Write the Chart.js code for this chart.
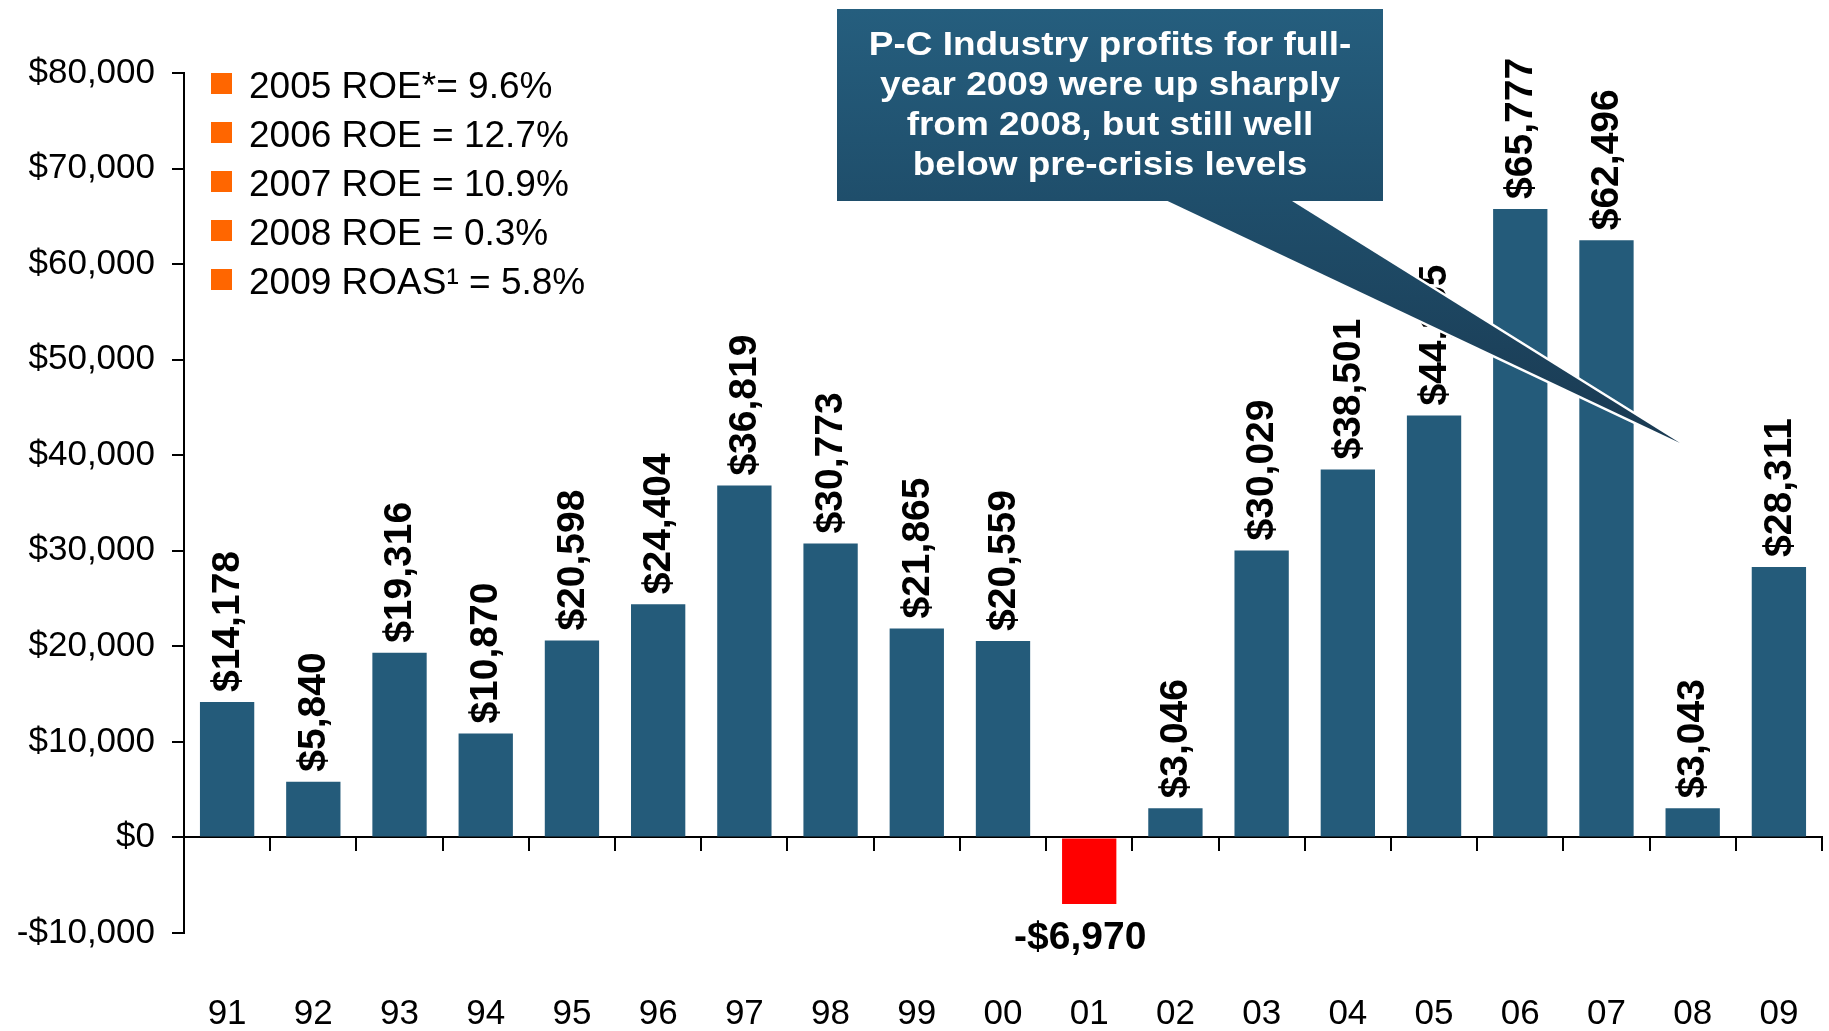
<!DOCTYPE html>
<html>
<head>
<meta charset="utf-8">
<script src="https://cdn.jsdelivr.net/npm/chart.js@4/dist/chart.umd.min.js"></script>
<style>
  html, body { margin: 0; padding: 0; background: #ffffff; }
  #wrap { width: 1829px; height: 1031px; position: relative; }
</style>
</head>
<body>
<div id="wrap"><canvas id="c" width="1829" height="1031"></canvas></div>
<script>
// ---- data ----
const years = ['91','92','93','94','95','96','97','98','99','00','01','02','03','04','05','06','07','08','09'];
const profits = [14178, 5840, 19316, 10870, 20598, 24404, 36819, 30773, 21865, 20559, -6970, 3046, 30029, 38501, 44155, 65777, 62496, 3043, 28311];
const yTicks = [-10000, 0, 10000, 20000, 30000, 40000, 50000, 60000, 70000, 80000];
const legendNotes = ['2005 ROE*= 9.6%', '2006 ROE = 12.7%', '2007 ROE = 10.9%', '2008 ROE = 0.3%', '2009 ROAS\u00B9 = 5.8%'];
const calloutLines = ['P-C Industry profits for full-', 'year 2009 were up sharply', 'from 2008, but still well', 'below pre-crisis levels'];

// ---- styles ----
const FONT = '"Liberation Sans", Arial, Helvetica, sans-serif';
const BAR_BLUE = '#245B7A';
const BAR_RED = '#FF0000';
const ORANGE = '#FF6600';

function money(v) {
  const s = Math.abs(v).toLocaleString('en-US');
  return (v < 0 ? '-$' : '$') + s;
}

const labelsPlugin = {
  id: 'labelsAndNotes',
  afterDatasetsDraw(chart) {
    const ctx = chart.ctx;
    const meta = chart.getDatasetMeta(0);
    ctx.save();
    ctx.fillStyle = '#000';
    ctx.font = 'bold 39px ' + FONT;
    meta.data.forEach((el, i) => {
      const v = profits[i];
      const txt = money(v);
      if (v >= 0) {
        ctx.save();
        ctx.translate(el.x, el.y - 10);
        ctx.rotate(-Math.PI / 2);
        ctx.textAlign = 'left';
        ctx.textBaseline = 'middle';
        ctx.fillText(txt, 0, 1);
        ctx.restore();
      } else {
        ctx.textAlign = 'center';
        ctx.textBaseline = 'middle';
        ctx.fillText(txt, el.x - 9, el.y + 34);
      }
    });
    ctx.restore();

    // legend notes
    ctx.save();
    ctx.font = '37px ' + FONT;
    ctx.textAlign = 'left';
    ctx.textBaseline = 'alphabetic';
    legendNotes.forEach((t, i) => {
      const base = 98 + i * 49;
      ctx.fillStyle = ORANGE;
      ctx.fillRect(211, base - 25, 21, 21);
      ctx.fillStyle = '#000';
      ctx.fillText(t, 249, base);
    });
    ctx.restore();

    // callout
    ctx.save();
    const grad = ctx.createLinearGradient(0, 9, 0, 443);
    grad.addColorStop(0, '#255E7E');
    grad.addColorStop(0.44, '#1F4E6B');
    grad.addColorStop(1, '#1A3A52');
    ctx.beginPath();
    ctx.moveTo(1157, 196);
    ctx.lineTo(1284, 196);
    ctx.lineTo(1680, 443);
    ctx.closePath();
    ctx.lineWidth = 5;
    ctx.strokeStyle = '#ffffff';
    ctx.lineJoin = 'miter';
    ctx.stroke();
    ctx.fillStyle = grad;
    ctx.fill();
    ctx.fillStyle = grad;
    ctx.fillRect(837, 9, 546, 192);
    ctx.fillStyle = '#ffffff';
    ctx.font = 'bold 33px ' + FONT;
    ctx.textAlign = 'center';
    ctx.textBaseline = 'alphabetic';
    calloutLines.forEach((t, i) => {
      ctx.save();
      ctx.translate(1110, 55 + i * 40);
      ctx.scale(1.12, 1);
      ctx.fillText(t, 0, 0);
      ctx.restore();
    });
    ctx.restore();
  }
};

new Chart(document.getElementById('c'), {
  type: 'bar',
  data: {
    labels: years,
    datasets: [{
      data: profits,
      backgroundColor: (c) => (c.raw < 0 ? BAR_RED : BAR_BLUE),
      borderWidth: 0,
      barPercentage: 0.63,
      categoryPercentage: 1.0
    }]
  },
  options: {
    responsive: false,
    animation: false,
    devicePixelRatio: 1,
    layout: { padding: { top: 73, right: 7, bottom: 0, left: 0 } },
    plugins: { legend: { display: false }, tooltip: { enabled: false } },
    scales: {
      x: {
        type: 'category',
        position: { y: 0 },
        offset: true,
        grid: { display: true, drawOnChartArea: false, offset: true, drawTicks: true, tickLength: 13, color: '#000', lineWidth: 2 },
        border: { display: true, color: '#000', width: 2 },
        ticks: { display: false }
      },
      x2: {
        type: 'category',
        labels: years,
        position: 'bottom',
        offset: true,
        afterFit: (s) => { s.height = 98; s.paddingLeft = 0; s.paddingRight = 0; },
        grid: { display: false, drawTicks: false },
        border: { display: false },
        ticks: { padding: 60, color: '#000', font: { family: FONT, size: 35 }, maxRotation: 0, autoSkip: false }
      },
      y: {
        min: -10000,
        max: 80000,
        afterFit: (s) => { s.width = 184; s.paddingTop = 0; s.paddingBottom = 0; },
        afterBuildTicks: (s) => { s.ticks = yTicks.map(v => ({ value: v })); },
        grid: { display: true, drawOnChartArea: false, drawTicks: true, tickLength: 12, color: '#000', lineWidth: 2 },
        border: { display: true, color: '#000', width: 2 },
        ticks: { padding: 17, color: '#000', font: { family: FONT, size: 35 }, callback: (v) => money(v) }
      }
    }
  },
  plugins: [labelsPlugin]
});
</script>
</body>
</html>
